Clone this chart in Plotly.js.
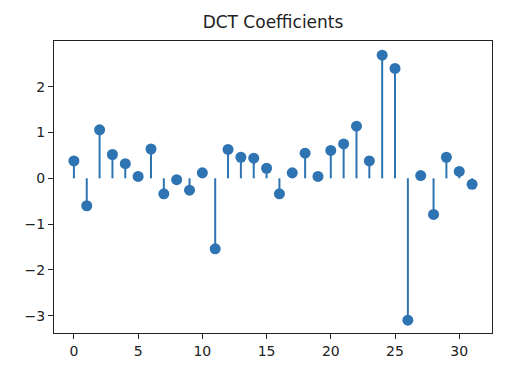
<!DOCTYPE html>
<html>
<head>
<meta charset="utf-8">
<script src="https://cdn.plot.ly/plotly-3.0.1.min.js"></script>
<style>html,body{margin:0;padding:0;background:#fff;}#chart{width:510px;height:368px;}</style>
</head>
<body>
<div id="chart"></div>
<script>
const indices = [0,1,2,3,4,5,6,7,8,9,10,11,12,13,14,15,16,17,18,19,20,21,22,23,24,25,26,27,28,29,30,31];
const coefficients = [0.38,-0.60,1.06,0.52,0.32,0.04,0.64,-0.34,-0.03,-0.26,0.12,-1.54,0.63,0.46,0.44,0.22,-0.34,0.12,0.55,0.04,0.61,0.75,1.14,0.38,2.69,2.40,-3.10,0.06,-0.79,0.46,0.15,-0.13];
const xTicks = [0,5,10,15,20,25,30];
const yTicks = [-3,-2,-1,0,1,2];

const stemX = [], stemY = [];
indices.forEach((k, i) => { stemX.push(k, k, null); stemY.push(0, coefficients[i], null); });

const color = '#2f74b2';
const data = [
  {x: stemX, y: stemY, mode: 'lines', type: 'scatter', line: {color: color, width: 2}, hoverinfo: 'skip'},
  {x: indices, y: coefficients, mode: 'markers', type: 'scatter', marker: {color: color, size: 11}}
];
const axisFont = {family: 'DejaVu Sans', size: 14, color: '#222'};
const layout = {
  width: 510, height: 368,
  margin: {l: 54, r: 18, t: 41, b: 35},
  showlegend: false,
  paper_bgcolor: '#fff', plot_bgcolor: '#fff',
  title: {text: 'DCT Coefficients', font: {family: 'DejaVu Sans', size: 17, color: '#222'}, x: 0.5, xanchor: 'center', xref: 'paper', y: 0.94, yanchor: 'middle', yref: 'container'},
  xaxis: {range: [-1.55, 32.55], tickvals: xTicks, ticks: 'outside', ticklen: 5, tickwidth: 1, tickcolor: '#222',
          showline: true, mirror: true, linecolor: '#222', linewidth: 1, showgrid: false, zeroline: false, tickfont: axisFont},
  yaxis: {range: [-3.38, 3.0], tickvals: yTicks, ticks: 'outside', ticklen: 5, tickwidth: 1, tickcolor: '#222',
          showline: true, mirror: true, linecolor: '#222', linewidth: 1, showgrid: false, zeroline: false, tickfont: axisFont}
};
Plotly.newPlot('chart', data, layout, {displayModeBar: false, staticPlot: true});
</script>
</body>
</html>
